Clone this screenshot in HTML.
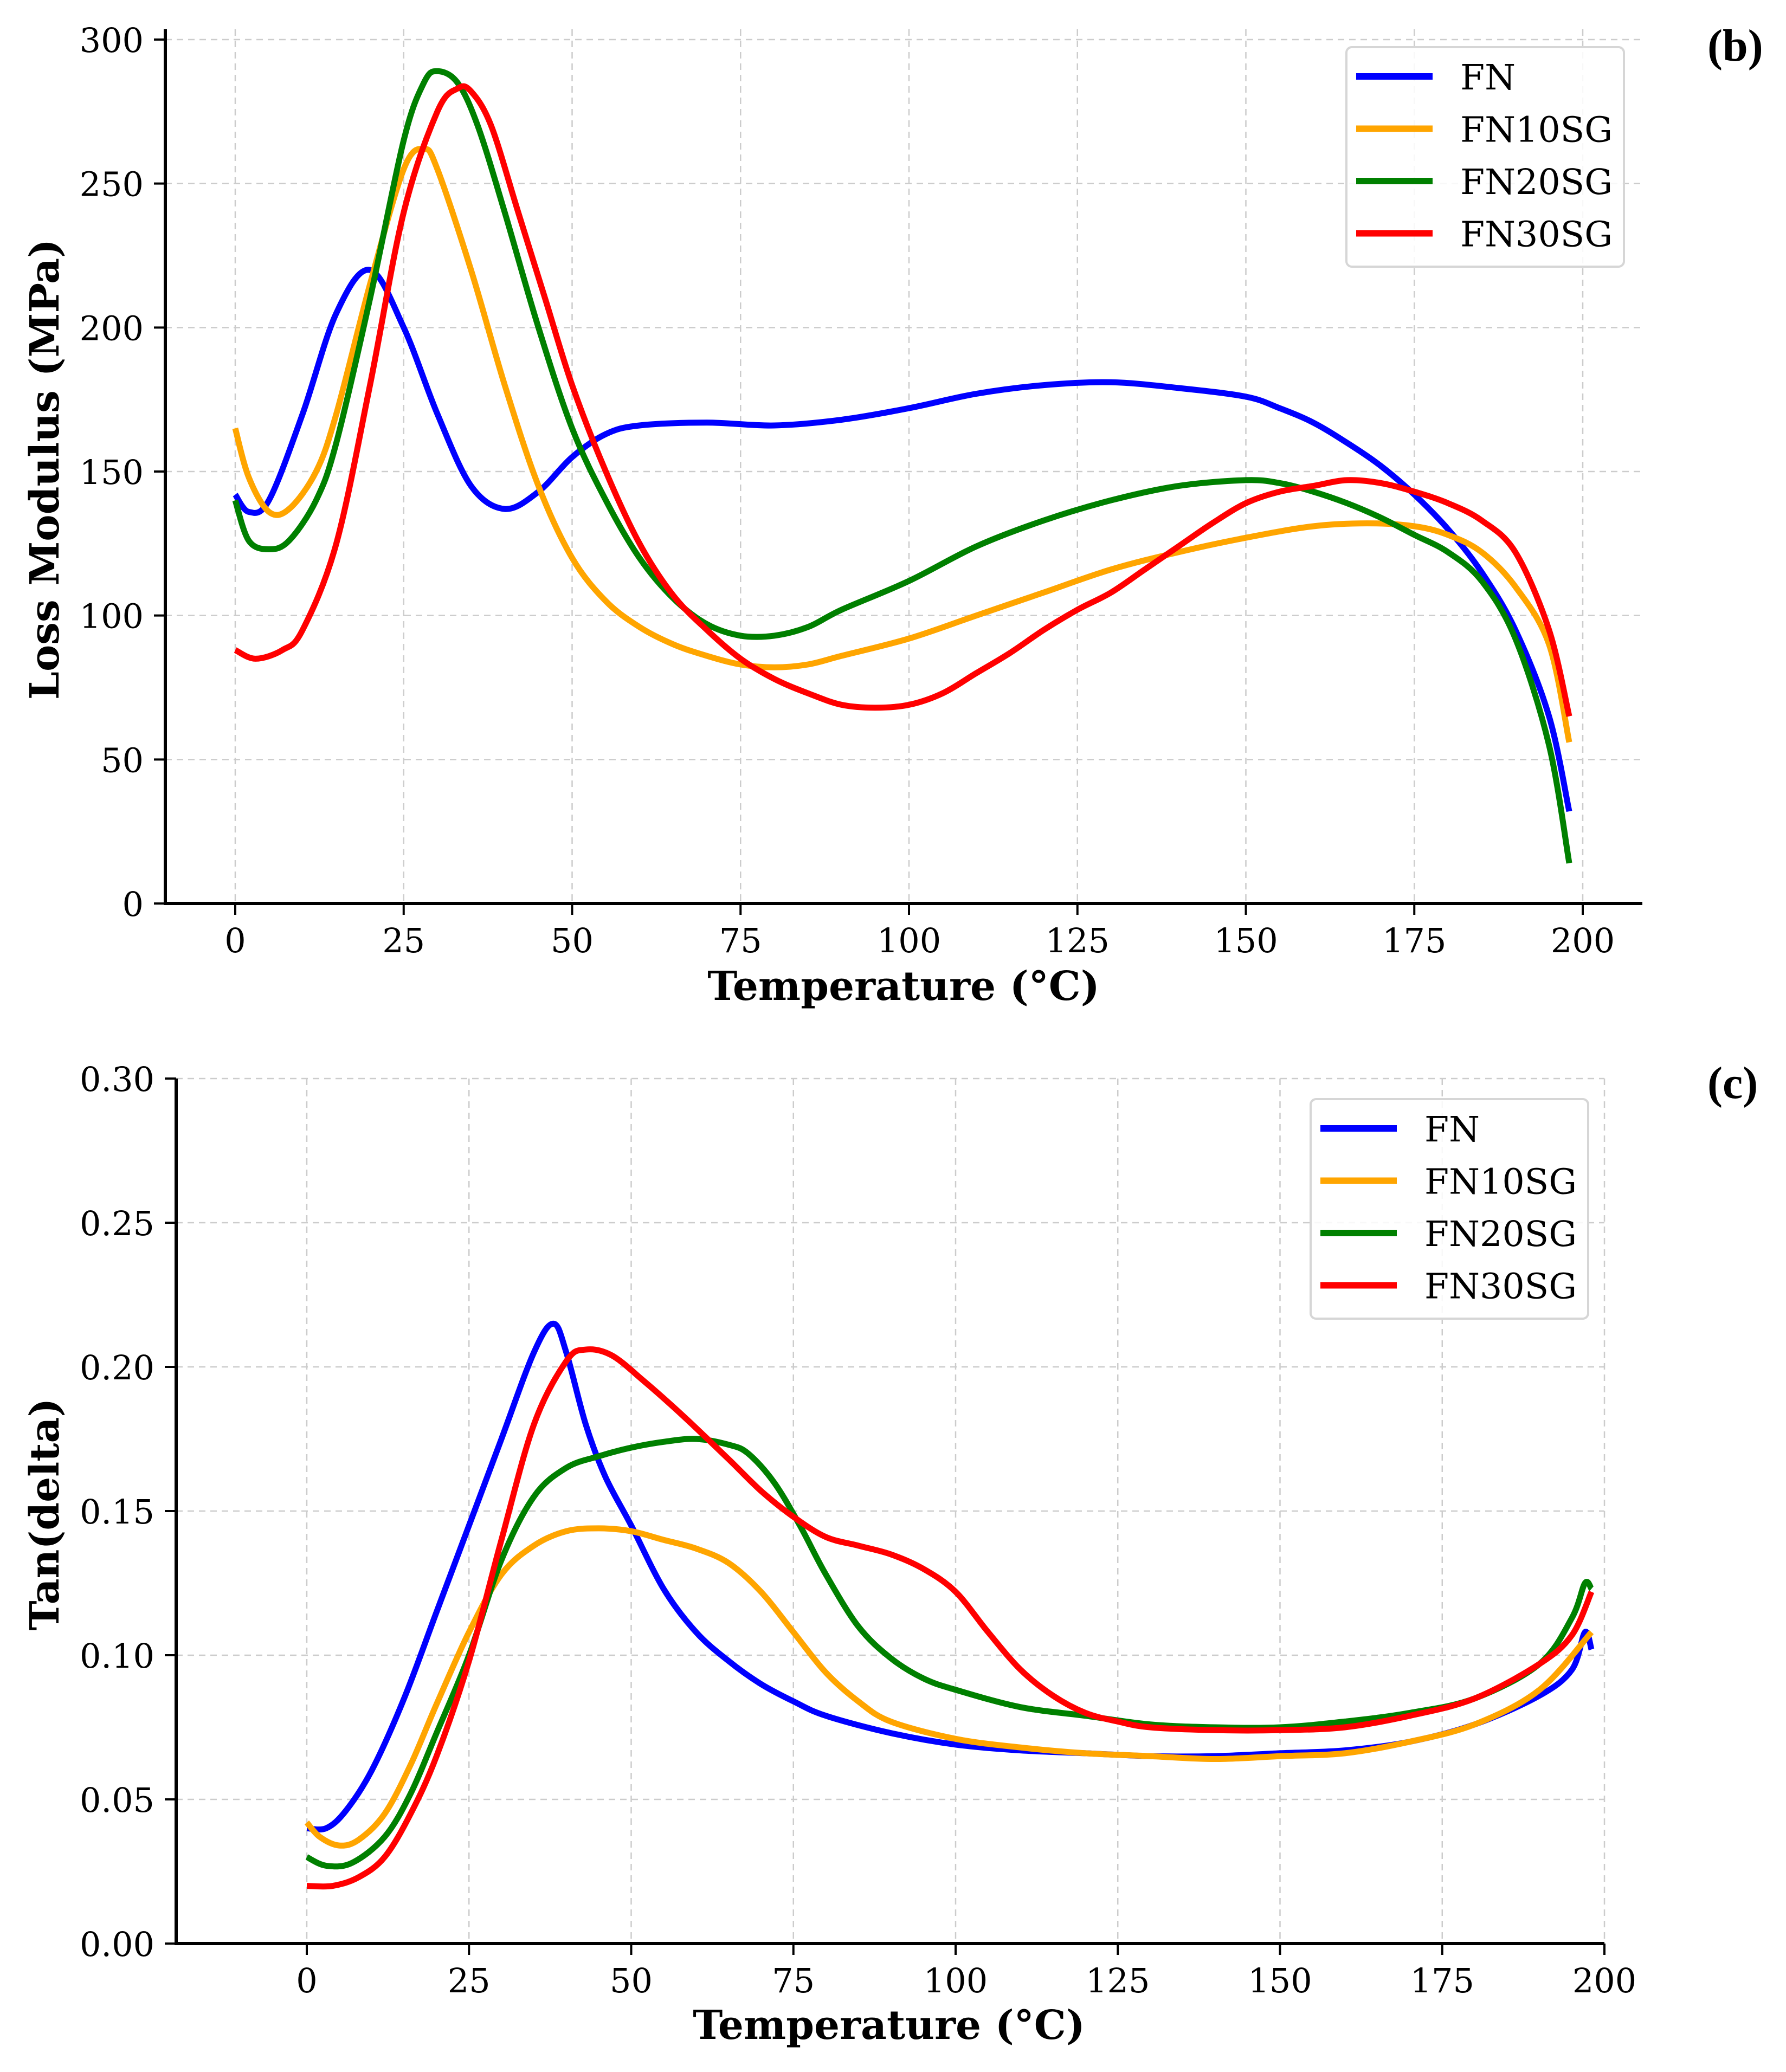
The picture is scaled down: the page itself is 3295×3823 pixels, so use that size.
<!DOCTYPE html>
<html><head><meta charset="utf-8">
<style>
html,body{margin:0;padding:0;background:#fff;}
svg{display:block;}
text{font-family:"DejaVu Serif","Liberation Serif",serif;fill:#000;}
</style></head>
<body>
<svg id="fig" width="3295" height="3823" viewBox="0 0 3295 3823" xmlns="http://www.w3.org/2000/svg">
<g id="panelB"></g>
<g id="panelC"></g>
</svg>
<script>
// ---- shared data ----
const seriesNames = ["FN", "FN10SG", "FN20SG", "FN30SG"];
const seriesColors = ["#0000ff", "#ffa500", "#008000", "#ff0000"];
const xTicks = [0, 25, 50, 75, 100, 125, 150, 175, 200];

// ---- panel (b) loss modulus ----
const lmYTicks = [0, 50, 100, 150, 200, 250, 300];
const lmFN_T = [0,2,5,10,15,20,25,30,35,40,45,50,55,60,70,80,90,100,110,120,130,140,150,155,160,165,170,175,180,185,190,195,198];
const lmFN_V = [142,136,140,170,205,220,200,170,145,137,143,155,163,166,167,166,168,172,177,180,181,179,176,172,167,160,152,142,130,115,95,65,32];
const lm10_T = [0,2,5,8,12,15,20,25,28,30,35,40,45,50,55,60,65,70,75,80,85,90,100,110,120,130,140,150,160,168,175,180,185,190,195,198];
const lm10_V = [165,148,136,137,150,170,215,255,262,255,220,180,145,120,105,96,90,86,83,82,83,86,92,100,108,116,122,127,131,132,131,128,122,110,90,56];
const lm20_T = [0,2,5,8,12,15,20,25,28,30,33,36,40,45,50,55,60,65,70,75,80,85,90,100,110,120,130,140,150,155,160,165,170,175,180,185,190,195,198];
const lm20_V = [140,126,123,126,140,160,210,265,285,289,285,270,240,200,165,140,120,106,97,93,93,96,102,112,124,133,140,145,147,146,143,139,134,128,122,112,92,55,14];
const lm30_T = [0,3,7,10,15,20,25,30,33,35,38,42,46,50,55,60,65,70,75,80,85,90,95,100,105,110,115,120,125,130,135,140,145,150,155,160,165,170,175,180,185,190,195,198];
const lm30_V = [88,85,88,95,125,180,240,275,283,282,270,240,210,180,150,125,107,95,85,78,73,69,68,69,73,80,87,95,102,108,116,124,132,139,143,145,147,146,143,139,133,122,95,65];

// ---- panel (c) tan delta ----
const tdYTicks = [0.00, 0.05, 0.10, 0.15, 0.20, 0.25, 0.30];
const tdFN_T = [0,3,6,10,15,20,25,30,35,38,40,43,46,50,55,60,65,70,75,80,90,100,110,120,130,140,150,160,170,180,190,195,197,198];
const tdFN_V = [0.040,0.040,0.046,0.060,0.085,0.115,0.145,0.175,0.205,0.215,0.205,0.180,0.162,0.145,0.123,0.108,0.098,0.090,0.084,0.079,0.073,0.069,0.067,0.066,0.065,0.065,0.066,0.067,0.070,0.076,0.086,0.095,0.108,0.102];
const td10_T = [0,2,5,8,12,16,20,25,30,35,40,45,50,55,60,65,70,75,80,85,90,100,110,120,130,140,150,160,170,180,190,198];
const td10_V = [0.042,0.037,0.034,0.036,0.045,0.062,0.083,0.108,0.128,0.138,0.143,0.144,0.143,0.140,0.137,0.132,0.122,0.108,0.094,0.084,0.077,0.071,0.068,0.066,0.065,0.064,0.065,0.066,0.070,0.076,0.088,0.108];
const td20_T = [0,3,7,12,16,20,25,30,35,40,45,50,55,60,65,68,72,76,80,85,90,95,100,110,120,130,140,150,160,170,180,190,195,197,198];
const td20_V = [0.030,0.027,0.028,0.037,0.052,0.073,0.100,0.133,0.155,0.165,0.169,0.172,0.174,0.175,0.173,0.170,0.160,0.145,0.128,0.110,0.099,0.092,0.088,0.082,0.079,0.076,0.075,0.075,0.077,0.080,0.085,0.097,0.113,0.125,0.123];
const td30_T = [0,4,8,12,16,20,25,30,35,40,43,47,52,58,65,70,75,80,85,90,95,100,105,110,115,120,125,130,140,150,160,170,180,190,195,198];
const td30_V = [0.020,0.020,0.023,0.030,0.045,0.065,0.098,0.140,0.180,0.202,0.206,0.204,0.195,0.183,0.168,0.157,0.148,0.141,0.138,0.135,0.130,0.122,0.108,0.095,0.086,0.080,0.077,0.075,0.074,0.074,0.075,0.079,0.085,0.097,0.107,0.122];

const NS = "http://www.w3.org/2000/svg";
function mk(parent, tag, attrs, txt){
  const e = document.createElementNS(NS, tag);
  for (const k in attrs) e.setAttribute(k, attrs[k]);
  if (txt !== undefined) e.textContent = txt;
  parent.appendChild(e);
  return e;
}
function smoothPath(pts){
  let d = "M" + pts[0][0].toFixed(1) + "," + pts[0][1].toFixed(1);
  for (let i = 0; i < pts.length - 1; i++) {
    const p0 = pts[Math.max(0, i-1)], p1 = pts[i], p2 = pts[i+1], p3 = pts[Math.min(pts.length-1, i+2)];
    const c1x = p1[0] + (p2[0]-p0[0])/6, c1y = p1[1] + (p2[1]-p0[1])/6;
    const c2x = p2[0] - (p3[0]-p1[0])/6, c2y = p2[1] - (p3[1]-p1[1])/6;
    d += " C" + c1x.toFixed(1)+","+c1y.toFixed(1)+" "+c2x.toFixed(1)+","+c2y.toFixed(1)+" "+p2[0].toFixed(1)+","+p2[1].toFixed(1);
  }
  return d;
}

function drawPanel(g, cfg){
  const xs = v => cfg.x0 + (v - 0) / 200 * (cfg.x200 - cfg.x0);
  const ys = v => cfg.yB + (v - cfg.yMin) / (cfg.yMax - cfg.yMin) * (cfg.yT - cfg.yB);
  xTicks.forEach(t => {
    const l = mk(g, "line", {x1: xs(t), x2: xs(t), y1: cfg.spineTop, y2: cfg.yB, stroke: "#cccccc", "stroke-width": 2.5, "stroke-dasharray": "12,9"});
    
    
  });
  cfg.yTicks.forEach(t => {
    const l = mk(g, "line", {x1: cfg.spineL, x2: cfg.spineR, y1: ys(t), y2: ys(t), stroke: "#cccccc", "stroke-width": 2.5, "stroke-dasharray": "12,9"});
    
    
  });
  cfg.series.forEach((s, i) => {
    const pts = s.t.map((t, j) => [xs(t), ys(s.v[j])]);
    const p = mk(g, "path", {d: smoothPath(pts), fill: "none", stroke: seriesColors[i], "stroke-width": 11, "stroke-linejoin": "round", "stroke-linecap": "butt"});
    
    
  });
  const sl = mk(g, "line", {x1: cfg.spineL, x2: cfg.spineL, y1: cfg.spineTop, y2: cfg.yB + 3, stroke: "#000", "stroke-width": 6});
  
  
  const sb = mk(g, "line", {x1: cfg.spineL - 3, x2: cfg.spineR, y1: cfg.yB, y2: cfg.yB, stroke: "#000", "stroke-width": 6});
  
  
  xTicks.forEach(t => {
    mk(g, "line", {x1: xs(t), x2: xs(t), y1: cfg.yB, y2: cfg.yB + 21, stroke: "#000", "stroke-width": 4});
    const tx = mk(g, "text", {x: xs(t), y: cfg.yB + 90, "font-size": 62, "text-anchor": "middle"}, String(t));
    
    
  });
  cfg.yTicks.forEach(t => {
    mk(g, "line", {x1: cfg.spineL - 21, x2: cfg.spineL, y1: ys(t), y2: ys(t), stroke: "#000", "stroke-width": 4});
    const tx = mk(g, "text", {x: cfg.spineL - 40, y: ys(t) + 23, "font-size": 62, "text-anchor": "end"}, cfg.fmt(t));
    
    
  });
  const xt = mk(g, "text", {x: cfg.xTitleX, y: cfg.xTitleY, "font-size": 74, "font-weight": "bold", "text-anchor": "middle"}, "Temperature (°C)");
  
  
  const yt = mk(g, "text", {x: 0, y: 0, "font-size": 74, "font-weight": "bold", "text-anchor": "middle", transform: "translate(" + (cfg.yTitleX) + "," + cfg.yTitleY + ") rotate(-90)"}, cfg.yTitle);
  
  
  const lg = mk(g, "g", {});
  
  
  mk(lg, "rect", {x: cfg.legX, y: cfg.legY, width: 512, height: 405, rx: 10, fill: "rgba(255,255,255,0.85)", stroke: "#d6d6d6", "stroke-width": 4});
  seriesNames.forEach((n, i) => {
    const eg = mk(lg, "g", {});
    
    
    const yy = cfg.legY + 54 + i * 96.5;
    mk(eg, "line", {x1: cfg.legX + 18, x2: cfg.legX + 159, y1: yy, y2: yy, stroke: seriesColors[i], "stroke-width": 12});
    mk(eg, "text", {x: cfg.legX + 210, y: yy + 24, "font-size": 65}, n);
  });
  const pl = mk(g, "text", {x: cfg.panelX, y: cfg.panelY, "font-size": 84, "font-weight": "bold", style: "font-family:'Liberation Serif',serif"}, cfg.panel);
  
  
}

drawPanel(document.getElementById("panelB"), {
  x0: 434, x200: 2920, yB: 1667, yT: 73, yMin: 0, yMax: 300,
  spineL: 305, spineR: 3030, spineTop: 54,
  yTicks: lmYTicks, fmt: v => String(v),
  series: [{t: lmFN_T, v: lmFN_V}, {t: lm10_T, v: lm10_V}, {t: lm20_T, v: lm20_V}, {t: lm30_T, v: lm30_V}],
  xTitleX: 1667, xTitleY: 1845, yTitleX: 108, yTitleY: 866, yTitle: "Loss Modulus (MPa)",
  legX: 2484, legY: 87, panel: "(b)", panelX: 3150, panelY: 112
});
drawPanel(document.getElementById("panelC"), {
  x0: 566, x200: 2960, yB: 3586, yT: 1990, yMin: 0, yMax: 0.30,
  spineL: 325, spineR: 2960, spineTop: 1990,
  yTicks: tdYTicks, fmt: v => v.toFixed(2),
  series: [{t: tdFN_T, v: tdFN_V}, {t: td10_T, v: td10_V}, {t: td20_T, v: td20_V}, {t: td30_T, v: td30_V}],
  xTitleX: 1640, xTitleY: 3762, yTitleX: 108, yTitleY: 2794, yTitle: "Tan(delta)",
  legX: 2418, legY: 2028, panel: "(c)", panelX: 3150, panelY: 2026
});
</script>
</body></html>
